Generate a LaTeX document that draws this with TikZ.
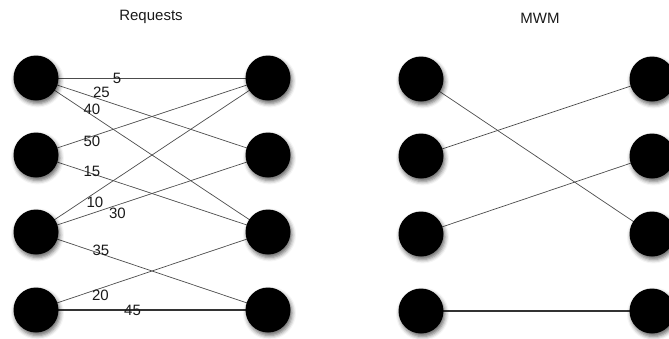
\documentclass[tikz,border=0pt]{standalone}
\usepackage{fontspec}
\setmainfont{Liberation Sans}
\usetikzlibrary{shadows.blur,backgrounds}
\begin{document}
\begin{tikzpicture}[x=1pt,y=-1pt,
  vertex/.style={circle,fill=black,inner sep=0pt,minimum size=45pt,
    blur shadow={shadow xshift=1.5pt,shadow yshift=-3pt,shadow blur radius=4pt,shadow opacity=60}},
  link/.style={draw=black!70,line width=0.7pt},
  heavy/.style={draw=black!80,line width=1.3pt},
  wlabel/.style={font=\fontsize{15}{15}\selectfont,text=black!90,inner sep=0pt},
  heading/.style={font=\fontsize{15}{15}\selectfont,text=black!90,anchor=base}]
\useasboundingbox (0,0) rectangle (669,338);

% headings
\node[heading] (treq) at (151,20.5) {Requests};
\node[heading] (tmwm) at (540,23) {MWM};

% request graph vertices
\node[vertex] (a1) at (36,78) {};
\node[vertex] (a2) at (36,155) {};
\node[vertex] (a3) at (36,232) {};
\node[vertex] (a4) at (36,310) {};
\node[vertex] (b1) at (268,78) {};
\node[vertex] (b2) at (268,155) {};
\node[vertex] (b3) at (268,232) {};
\node[vertex] (b4) at (268,310) {};

% matching graph vertices
\node[vertex] (c1) at (421,79) {};
\node[vertex] (c2) at (421,156) {};
\node[vertex] (c3) at (421,234) {};
\node[vertex] (c4) at (421,311) {};
\node[vertex] (d1) at (652,79) {};
\node[vertex] (d2) at (652,156) {};
\node[vertex] (d3) at (652,234) {};
\node[vertex] (d4) at (652,311) {};

\begin{scope}[on background layer]
  % weighted requests
  \draw[link] (a1.center) -- node[wlabel,pos=0.349] {5} (b1.center);
  \draw[link] (a1.center) -- node[wlabel,pos=0.282,yshift=7pt] {25} (b2.center);
  \draw[link] (a1.center) -- node[wlabel,pos=0.241,yshift=6pt] {40} (b3.center);
  \draw[link] (a2.center) -- node[wlabel,pos=0.241,yshift=-4.6pt] {50} (b1.center);
  \draw[link] (a2.center) -- node[wlabel,pos=0.241,yshift=2.6pt] {15} (b3.center);
  \draw[link] (a3.center) -- node[wlabel,pos=0.254,yshift=-9.8pt] {10} (b1.center);
  \draw[link] (a3.center) -- node[wlabel,pos=0.351,yshift=-8.5pt] {30} (b2.center);
  \draw[link] (a3.center) -- node[wlabel,pos=0.280,yshift=3.4pt] {35} (b4.center);
  \draw[link] (a4.center) -- node[wlabel,pos=0.278,yshift=-7pt] {20} (b3.center);
  \draw[heavy] (a4.center) -- node[wlabel,pos=0.416] {45} (b4.center);

  % maximum weight matching
  \draw[link] (c1.center) -- (d3.center);
  \draw[link] (c2.center) -- (d1.center);
  \draw[link] (c3.center) -- (d2.center);
  \draw[heavy] (c4.center) -- (d4.center);
\end{scope}
\end{tikzpicture}
\end{document}
